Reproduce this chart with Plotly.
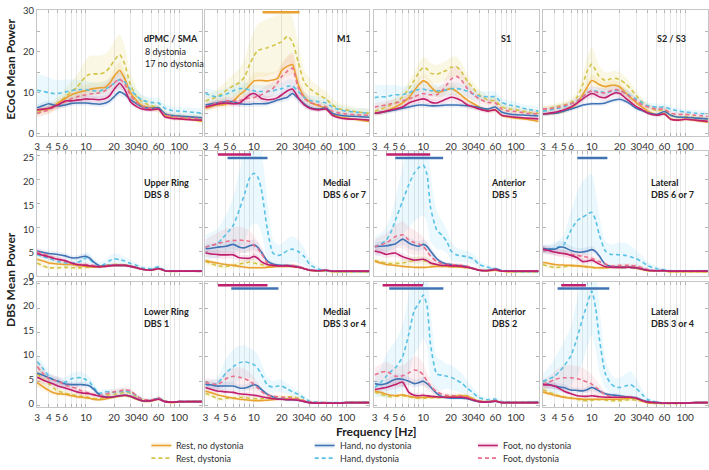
import math
import plotly.graph_objects as go

W, H = 709, 470

FREQ = [3, 3.5, 4, 4.5, 5, 6, 7, 8, 9, 10, 11, 12, 14, 16, 18, 20, 23, 26, 30, 35, 40, 50, 60, 70, 85, 100, 130, 175]
TICK_VALS = [3, 4, 5, 6, 7, 8, 9, 10, 20, 30, 40, 50, 60, 70, 80, 90, 100]
TICK_TEXT = ["3", "4", "5", "6", "", "", "", "10", "20", "30", "40", "", "60", "", "", "", "100"]

CONDS = ["rest", "rest_d", "hand", "hand_d", "foot", "foot_d"]
LABELS = {"rest": "Rest, no dystonia", "rest_d": "Rest, dystonia", "hand": "Hand, no dystonia",
          "hand_d": "Hand, dystonia", "foot": "Foot, no dystonia", "foot_d": "Foot, dystonia"}

# ---------------- ECoG ----------------
DPMC = dict(
    rest=[5.8,5.9,6.0,6.6,7.4,8.6,9.5,10.0,10.3,10.5,10.8,11.0,11.2,11.3,12.3,14.0,15.5,13.5,10.0,8.0,6.8,6.3,6.2,4.5,3.8,3.7,3.5,3.0],
    rest_d=[5.3,5.6,6.0,6.8,7.5,9.0,10.3,11.3,12.8,14.0,14.5,14.6,14.6,15.0,16.2,17.8,19.3,17.0,12.0,9.0,7.8,6.8,6.3,4.8,4.3,4.3,4.0,3.8],
    hand=[6.3,6.9,7.3,7.0,6.8,7.0,7.4,7.5,7.5,7.5,7.4,7.3,7.2,7.4,8.0,9.0,10.2,9.6,8.3,7.3,6.5,6.2,6.3,4.9,4.4,4.3,4.1,3.9],
    hand_d=[10.6,10.3,10.0,9.8,9.8,10.2,10.5,10.7,10.8,10.8,10.6,10.5,10.4,10.9,11.5,12.3,13.2,12.6,10.8,9.2,8.2,7.6,7.5,6.2,5.6,5.5,5.3,5.0],
    foot=[5.8,6.0,6.2,6.6,7.0,8.0,8.0,8.2,8.3,8.5,8.4,8.4,8.3,8.5,9.3,10.8,12.3,10.8,7.8,6.6,6.0,5.8,6.0,4.1,3.7,3.6,3.4,3.3],
    foot_d=[5.0,5.4,5.8,6.4,7.0,7.8,8.5,9.0,9.3,9.5,9.7,9.8,10.0,10.5,11.4,12.4,13.3,12.2,9.3,7.6,6.6,6.1,6.0,4.6,4.2,4.0,3.8,3.6],
)
DPMC_SD = dict(
    rest=[0.8,0.8,0.8,0.9,1.0,1.2,1.3,1.4,1.5,1.5,1.5,1.5,1.5,1.5,1.6,1.8,2.0,1.8,1.2,1.0,0.8,0.7,0.7,0.5,0.5,0.5,0.4,0.4],
    rest_d=[1.0,1.0,1.0,1.2,1.5,2.0,2.5,3.0,3.5,4.0,4.5,4.5,4.5,4.5,4.5,4.8,5.0,4.5,3.0,2.0,1.5,1.2,1.2,1.0,0.8,0.8,0.8,0.8],
    hand=[0.8,0.8,0.8,0.7,0.7,0.7,0.7,0.7,0.7,0.7,0.7,0.7,0.7,0.7,0.8,0.9,1.0,0.9,0.8,0.7,0.6,0.6,0.6,0.5,0.5,0.5,0.4,0.4],
    hand_d=[4.0,4.0,3.8,3.5,3.3,3.0,2.8,2.5,2.3,2.0,2.0,2.0,2.0,2.0,2.0,2.0,2.0,2.0,1.8,1.5,1.3,1.2,1.2,1.0,1.0,1.0,1.0,1.0],
    foot=[0.6,0.6,0.6,0.6,0.7,0.8,0.8,0.8,0.8,0.8,0.8,0.8,0.8,0.8,0.9,1.0,1.2,1.0,0.8,0.6,0.5,0.5,0.5,0.4,0.4,0.4,0.4,0.4],
    foot_d=[1.0,1.0,1.0,1.0,1.1,1.2,1.3,1.4,1.5,1.5,1.5,1.5,1.5,1.6,1.7,1.9,2.0,1.8,1.3,1.0,0.8,0.7,0.7,0.6,0.5,0.5,0.5,0.5],
)

M1 = dict(
    rest=[6.2,6.6,7.0,7.0,7.2,8.0,9.5,10.5,11.8,12.9,13.0,13.0,12.9,13.1,13.5,15.5,16.5,16.9,12.0,9.0,7.8,6.8,6.2,4.8,4.0,3.8,3.4,3.0],
    rest_d=[8.0,8.5,9.0,9.8,10.5,11.7,12.5,14.0,17.0,19.0,20.3,20.6,21.0,21.5,22.0,22.5,23.8,22.5,17.5,12.5,11.0,9.5,8.5,7.0,6.0,5.8,5.3,5.0],
    hand=[7.0,7.3,7.5,7.7,7.8,7.8,7.3,7.2,7.2,7.3,7.3,7.3,7.4,7.8,8.2,8.5,8.9,9.8,8.6,7.2,6.4,6.0,6.3,5.0,4.5,4.3,4.2,4.0],
    hand_d=[9.8,9.3,9.0,9.3,9.6,10.5,11.0,11.0,10.7,10.5,10.3,10.3,10.3,10.5,10.8,11.0,11.6,11.6,10.4,8.8,8.1,7.8,7.5,6.5,5.8,5.5,5.2,5.0],
    foot=[6.5,6.9,7.2,7.4,7.5,7.3,7.5,8.5,9.5,9.8,9.3,8.6,8.3,8.4,8.8,9.5,10.5,10.9,8.8,7.0,6.2,5.8,6.0,4.5,3.8,3.6,3.5,3.3],
    foot_d=[6.5,7.0,7.5,7.8,8.0,8.0,8.0,8.5,8.7,8.8,9.2,9.5,10.3,11.0,12.5,14.0,15.3,16.0,11.3,8.6,7.6,7.0,6.5,5.5,5.0,4.8,4.6,4.5],
)
M1_SD = dict(
    rest=[0.8,0.8,0.8,0.9,1.0,1.2,1.5,1.6,1.8,2.0,2.0,2.0,2.0,2.0,2.0,2.2,2.5,2.5,1.8,1.2,1.0,0.8,0.8,0.6,0.5,0.5,0.4,0.4],
    rest_d=[1.5,1.5,1.8,2.0,2.3,2.8,3.5,4.5,5.5,6.0,6.5,6.8,7.0,7.0,7.0,6.8,6.5,6.0,4.5,3.0,2.5,2.0,1.8,1.5,1.2,1.2,1.0,1.0],
    hand=[0.7,0.7,0.7,0.7,0.7,0.7,0.7,0.7,0.7,0.7,0.7,0.7,0.7,0.7,0.7,0.8,0.9,1.0,0.9,0.7,0.6,0.6,0.6,0.5,0.5,0.5,0.5,0.5],
    hand_d=[1.5,1.5,1.5,1.5,1.5,1.5,1.5,1.5,1.5,1.5,1.5,1.5,1.5,1.5,1.5,1.5,1.6,1.6,1.5,1.3,1.2,1.2,1.2,1.0,1.0,1.0,1.0,1.0],
    foot=[0.7,0.7,0.7,0.7,0.7,0.7,0.8,0.9,1.0,1.0,1.0,0.9,0.9,0.9,0.9,1.0,1.1,1.2,1.0,0.8,0.6,0.5,0.5,0.5,0.4,0.4,0.4,0.4],
    foot_d=[1.0,1.0,1.0,1.0,1.0,1.0,1.0,1.1,1.2,1.2,1.3,1.4,1.6,1.8,2.2,2.8,3.5,3.8,2.5,1.5,1.2,1.0,0.9,0.8,0.7,0.7,0.6,0.6],
)

S1 = dict(
    rest=[5.0,5.2,5.5,6.0,6.5,7.5,8.8,10.5,12.0,12.9,12.5,11.5,10.2,10.3,10.8,11.0,10.3,9.3,8.2,7.3,6.5,5.6,5.8,4.5,4.0,3.8,3.5,3.0],
    rest_d=[5.5,6.0,6.5,7.0,7.5,9.0,11.0,13.0,15.0,16.2,15.8,14.8,14.5,15.0,15.5,16.2,16.3,15.0,12.8,11.0,9.5,8.2,8.0,6.5,6.0,5.8,5.3,5.0],
    hand=[5.0,5.2,5.4,5.6,5.8,6.2,6.5,6.8,7.0,7.0,6.9,6.8,6.8,6.9,7.0,7.0,7.0,6.9,6.8,6.6,6.4,6.0,6.5,5.3,4.8,4.6,4.5,4.3],
    hand_d=[8.8,9.0,9.0,9.3,9.5,9.5,10.0,10.5,10.8,10.9,10.6,10.5,10.5,10.5,10.7,11.0,11.0,10.8,10.4,9.6,9.2,9.0,9.0,7.6,7.0,6.7,6.0,5.5],
    foot=[5.0,5.2,5.5,5.8,6.0,6.5,7.5,8.0,8.3,8.5,8.2,7.7,7.5,8.0,8.5,8.9,8.6,8.0,7.0,6.5,6.0,5.5,5.8,4.5,4.2,4.0,3.8,3.6],
    foot_d=[6.5,6.8,7.0,7.3,7.5,8.0,8.5,9.0,9.5,9.8,9.6,9.5,9.5,10.5,12.0,13.3,14.0,13.0,11.0,9.5,8.5,7.6,7.5,6.0,5.5,5.4,5.0,4.8],
)
S1_SD = dict(
    rest=[0.6,0.6,0.6,0.7,0.8,1.0,1.2,1.4,1.6,1.7,1.6,1.5,1.3,1.3,1.4,1.5,1.4,1.2,1.0,0.8,0.7,0.6,0.6,0.5,0.5,0.5,0.4,0.4],
    rest_d=[1.0,1.0,1.1,1.2,1.3,1.5,1.8,2.0,2.3,2.5,2.5,2.4,2.3,2.3,2.4,2.5,2.5,2.2,1.8,1.5,1.3,1.1,1.1,1.0,0.9,0.9,0.8,0.8],
    hand=[0.6,0.6,0.6,0.6,0.6,0.6,0.6,0.6,0.6,0.6,0.6,0.6,0.6,0.6,0.6,0.6,0.6,0.6,0.6,0.6,0.6,0.5,0.5,0.5,0.5,0.5,0.4,0.4],
    hand_d=[3.0,3.0,2.8,2.6,2.4,2.0,1.8,1.6,1.6,1.6,1.5,1.5,1.5,1.5,1.5,1.5,1.5,1.5,1.5,1.4,1.3,1.3,1.3,1.2,1.1,1.0,1.0,1.0],
    foot=[0.6,0.6,0.6,0.6,0.6,0.7,0.8,0.9,0.9,0.9,0.9,0.8,0.8,0.8,0.9,1.0,1.0,0.9,0.8,0.7,0.6,0.5,0.5,0.5,0.4,0.4,0.4,0.4],
    foot_d=[1.0,1.0,1.0,1.0,1.0,1.1,1.2,1.3,1.4,1.5,1.5,1.5,1.5,1.7,2.0,2.5,2.8,2.5,2.0,1.5,1.2,1.0,1.0,0.9,0.8,0.8,0.7,0.7],
)

S23 = dict(
    rest=[4.8,4.9,5.0,5.2,5.5,6.3,7.5,9.5,11.5,13.0,12.6,12.0,11.5,11.8,11.8,11.4,10.0,8.8,7.6,6.4,5.5,4.6,4.9,3.6,3.3,3.5,3.2,2.8],
    rest_d=[6.0,6.2,6.5,6.8,7.0,7.6,9.0,12.0,15.5,17.0,15.5,14.0,13.0,13.4,13.5,13.2,12.2,11.0,9.3,7.6,6.6,5.6,5.8,4.5,4.0,4.2,3.9,3.5],
    hand=[4.8,4.9,5.0,5.2,5.5,6.0,6.5,7.0,7.2,7.3,7.3,7.3,7.5,8.0,8.3,8.4,7.9,7.2,6.2,5.6,5.1,4.7,5.4,4.5,4.0,4.0,3.8,3.6],
    hand_d=[5.5,5.7,6.0,6.3,6.5,7.3,8.0,9.0,10.0,10.5,10.4,10.3,10.0,10.3,10.5,10.5,9.9,9.2,8.5,7.5,6.8,6.5,6.5,6.0,5.5,5.3,5.0,4.8],
    foot=[4.8,5.0,5.2,5.5,5.8,6.5,7.5,8.5,9.3,9.8,9.5,9.0,8.8,9.5,10.0,9.8,8.7,7.7,6.6,5.8,5.0,4.5,4.8,3.5,3.3,3.5,3.3,3.0],
    foot_d=[6.0,6.1,6.3,6.5,6.8,7.3,8.0,9.0,10.0,10.4,10.2,10.0,10.0,10.5,10.8,10.5,9.8,9.0,8.0,7.0,6.5,6.0,6.0,5.0,4.7,4.7,4.5,4.2],
)
S23_SD = dict(
    rest=[0.5,0.5,0.5,0.5,0.6,0.7,0.9,1.1,1.3,1.5,1.4,1.3,1.2,1.2,1.2,1.2,1.1,1.0,0.8,0.7,0.6,0.5,0.5,0.4,0.4,0.4,0.4,0.4],
    rest_d=[0.8,0.8,0.8,0.8,0.9,1.0,1.5,2.5,3.5,4.2,3.5,2.5,2.0,1.8,1.8,1.8,1.7,1.5,1.2,1.0,0.8,0.7,0.7,0.6,0.6,0.6,0.5,0.5],
    hand=[0.5,0.5,0.5,0.5,0.5,0.5,0.5,0.5,0.5,0.5,0.5,0.5,0.6,0.6,0.6,0.6,0.6,0.5,0.5,0.5,0.4,0.4,0.4,0.4,0.4,0.4,0.4,0.4],
    hand_d=[0.8,0.8,0.8,0.8,0.8,0.8,0.9,1.0,1.0,1.0,1.0,1.0,1.0,1.0,1.0,1.0,1.0,1.0,0.9,0.8,0.8,0.8,0.8,0.7,0.7,0.7,0.7,0.7],
    foot=[0.5,0.5,0.5,0.5,0.5,0.6,0.7,0.8,0.9,1.0,1.0,0.9,0.9,0.9,1.0,1.0,0.9,0.8,0.7,0.6,0.5,0.5,0.5,0.4,0.4,0.4,0.4,0.4],
    foot_d=[0.7,0.7,0.7,0.7,0.7,0.8,0.9,1.0,1.1,1.2,1.2,1.2,1.2,1.2,1.2,1.2,1.1,1.0,0.9,0.8,0.7,0.7,0.7,0.6,0.6,0.6,0.6,0.6],
)

# ---------------- DBS upper row ----------------
UPPER = dict(
    rest=[3.3,2.9,2.5,2.4,2.3,2.2,2.2,2.0,1.9,1.8,1.7,1.7,1.7,1.8,1.9,2.0,2.0,2.0,1.8,1.5,1.2,1.0,1.3,0.9,0.8,0.8,0.8,0.8],
    rest_d=[2.5,1.9,1.5,1.5,1.5,1.6,1.5,1.5,1.5,1.6,1.6,1.7,1.8,2.0,2.1,2.2,2.2,2.1,1.9,1.5,1.2,1.0,1.3,0.9,0.7,0.8,0.8,0.8],
    hand=[5.0,4.7,4.5,4.4,4.3,4.0,3.6,3.6,3.8,3.9,3.5,2.8,1.9,1.9,2.0,2.0,2.0,2.0,1.8,1.5,1.2,1.1,1.4,0.9,0.8,0.8,0.8,0.8],
    hand_d=[4.3,3.8,3.5,3.1,2.8,2.5,2.5,2.6,3.0,3.6,3.3,2.6,2.0,2.3,3.0,3.4,3.2,2.9,2.4,2.0,1.5,1.3,1.7,1.0,0.8,0.8,0.8,0.8],
    foot=[4.5,4.1,3.8,3.5,3.3,3.0,2.5,2.2,2.1,2.0,1.9,1.8,1.7,1.8,1.9,2.0,2.0,2.0,1.8,1.5,1.2,1.0,1.3,0.9,0.8,0.8,0.8,0.8],
    foot_d=[4.8,4.4,4.0,3.6,3.3,2.8,2.4,2.2,2.2,2.2,2.1,2.0,1.8,1.9,2.0,2.1,2.1,2.0,1.8,1.5,1.2,1.0,1.4,0.9,0.8,0.8,0.8,0.8],
)
UPPER_SD = dict(
    rest=[0.5,0.5,0.4,0.4,0.4,0.4,0.4,0.4,0.4,0.4,0.3,0.3,0.3,0.3,0.3,0.3,0.3,0.3,0.3,0.3,0.2,0.2,0.2,0.2,0.2,0.2,0.2,0.2],
    rest_d=[0.6,0.5,0.4,0.4,0.4,0.4,0.4,0.4,0.4,0.4,0.3,0.3,0.3,0.3,0.3,0.3,0.3,0.3,0.3,0.3,0.2,0.2,0.2,0.2,0.2,0.2,0.2,0.2],
    hand=[0.6,0.6,0.6,0.6,0.6,0.6,0.5,0.5,0.6,0.6,0.5,0.4,0.3,0.3,0.3,0.3,0.3,0.3,0.3,0.3,0.2,0.2,0.2,0.2,0.2,0.2,0.2,0.2],
    hand_d=[0.6,0.6,0.6,0.6,0.6,0.6,0.7,0.8,1.0,1.2,1.1,0.9,0.7,0.8,1.0,1.2,1.1,0.9,0.7,0.5,0.4,0.4,0.4,0.3,0.3,0.3,0.3,0.3],
    foot=[0.6,0.5,0.5,0.5,0.5,0.4,0.4,0.4,0.4,0.4,0.3,0.3,0.3,0.3,0.3,0.3,0.3,0.3,0.3,0.3,0.2,0.2,0.2,0.2,0.2,0.2,0.2,0.2],
    foot_d=[0.7,0.6,0.6,0.5,0.5,0.4,0.4,0.4,0.4,0.4,0.3,0.3,0.3,0.3,0.3,0.3,0.3,0.3,0.3,0.3,0.2,0.2,0.2,0.2,0.2,0.2,0.2,0.2],
)

MED67 = dict(
    rest=[3.0,2.7,2.5,2.3,2.2,2.0,1.8,1.6,1.5,1.5,1.5,1.5,1.6,1.7,1.8,1.8,1.8,1.8,1.6,1.3,1.0,0.8,0.9,0.7,0.7,0.7,0.7,0.7],
    rest_d=[2.8,2.3,2.0,1.8,1.8,2.0,2.3,2.5,2.7,2.5,2.3,2.2,1.8,1.8,1.9,1.9,1.9,1.9,1.7,1.3,1.0,0.8,0.9,0.7,0.7,0.7,0.7,0.7],
    hand=[5.5,5.6,5.8,5.9,6.0,6.4,5.8,5.7,6.1,6.3,5.8,4.8,2.9,2.3,2.1,2.0,2.0,1.9,1.7,1.3,1.0,0.9,1.0,0.8,0.8,0.8,0.8,0.8],
    hand_d=[5.8,6.2,6.5,7.5,8.5,10.4,13.8,17.2,20.3,21.3,20.5,18.0,9.4,4.6,4.1,4.3,5.1,5.4,4.9,3.8,2.2,1.2,0.9,0.8,0.7,0.7,0.7,0.7],
    foot=[4.6,4.4,4.3,4.2,4.2,4.2,3.6,3.5,3.5,3.9,3.5,2.8,2.2,2.0,1.9,1.9,1.9,1.8,1.6,1.3,1.0,0.9,1.0,0.8,0.8,0.8,0.8,0.8],
    foot_d=[5.8,6.2,6.5,6.8,7.0,7.2,7.3,7.2,7.0,6.2,5.5,4.6,2.5,2.0,1.9,1.9,2.0,2.0,1.8,1.4,1.0,0.9,1.0,0.8,0.8,0.8,0.8,0.8],
)
MED67_SD = dict(
    rest=[0.4,0.4,0.3,0.3,0.3,0.3,0.3,0.3,0.3,0.3,0.3,0.3,0.3,0.3,0.3,0.3,0.3,0.3,0.3,0.2,0.2,0.2,0.2,0.2,0.2,0.2,0.2,0.2],
    rest_d=[0.6,0.5,0.5,0.5,0.5,0.6,0.7,0.8,0.8,0.8,0.7,0.6,0.4,0.3,0.3,0.3,0.3,0.3,0.3,0.2,0.2,0.2,0.2,0.2,0.2,0.2,0.2,0.2],
    hand=[1.0,1.0,1.0,1.0,1.0,1.1,1.1,1.1,1.1,1.1,1.0,0.8,0.5,0.4,0.3,0.3,0.3,0.3,0.3,0.2,0.2,0.2,0.2,0.2,0.2,0.2,0.2,0.2],
    hand_d=[2.5,2.8,3.0,3.5,4.0,6.0,8.0,10.0,10.5,10.5,10.0,9.0,6.0,3.0,2.2,2.3,2.6,2.7,2.4,1.8,1.0,0.5,0.4,0.3,0.3,0.3,0.3,0.3],
    foot=[0.8,0.8,0.8,0.8,0.8,0.8,0.7,0.7,0.7,0.7,0.6,0.5,0.4,0.3,0.3,0.3,0.3,0.3,0.3,0.2,0.2,0.2,0.2,0.2,0.2,0.2,0.2,0.2],
    foot_d=[1.5,2.0,2.3,2.5,2.7,2.8,2.8,2.6,2.3,2.0,1.7,1.3,0.7,0.5,0.4,0.4,0.4,0.4,0.4,0.3,0.3,0.3,0.3,0.2,0.2,0.2,0.2,0.2],
)

ANT5 = dict(
    rest=[2.9,2.5,2.2,2.1,2.0,1.8,1.7,1.6,1.6,1.6,1.6,1.7,1.8,1.8,1.8,1.7,1.7,1.6,1.5,1.3,1.0,0.9,1.0,0.8,0.7,0.7,0.7,0.7],
    rest_d=[3.0,2.7,2.5,2.4,2.4,2.5,2.8,3.0,3.2,3.0,2.8,2.5,2.0,1.9,1.9,1.9,1.9,1.8,1.6,1.3,1.0,0.9,1.0,0.8,0.7,0.7,0.7,0.7],
    hand=[5.9,6.0,6.1,6.3,6.5,7.5,6.7,6.2,6.0,6.4,6.0,5.0,3.4,2.6,2.3,2.2,2.0,1.9,1.7,1.3,1.0,1.0,1.3,0.9,0.8,0.8,0.8,0.8],
    hand_d=[6.0,6.5,7.3,9.0,11.4,15.5,18.9,21.3,22.5,23.0,21.0,14.1,9.4,8.3,7.0,5.0,4.2,4.0,3.8,3.3,2.2,1.6,1.3,0.9,0.8,0.7,0.7,0.7],
    foot=[5.0,4.7,4.3,4.5,4.6,3.8,3.4,3.1,3.2,3.3,3.0,2.5,2.2,2.0,2.0,1.9,1.9,1.8,1.6,1.3,1.0,0.9,1.1,0.8,0.8,0.8,0.8,0.8],
    foot_d=[5.9,6.3,6.7,7.4,8.0,8.4,7.3,6.8,6.5,6.0,5.0,3.9,2.8,2.4,2.2,2.2,2.1,2.0,1.8,1.4,1.1,1.0,1.2,0.9,0.8,0.8,0.8,0.8],
)
ANT5_SD = dict(
    rest=[0.4,0.4,0.3,0.3,0.3,0.3,0.3,0.3,0.3,0.3,0.3,0.3,0.3,0.3,0.3,0.3,0.3,0.3,0.3,0.2,0.2,0.2,0.2,0.2,0.2,0.2,0.2,0.2],
    rest_d=[0.6,0.5,0.5,0.5,0.6,0.7,0.8,0.9,0.9,0.9,0.8,0.7,0.4,0.3,0.3,0.3,0.3,0.3,0.3,0.2,0.2,0.2,0.2,0.2,0.2,0.2,0.2,0.2],
    hand=[1.0,1.0,1.0,1.0,1.0,1.2,1.2,1.1,1.0,1.0,1.0,0.9,0.6,0.4,0.3,0.3,0.3,0.3,0.3,0.2,0.2,0.2,0.2,0.2,0.2,0.2,0.2,0.2],
    hand_d=[2.0,2.3,2.8,3.5,4.5,7.0,9.0,10.0,10.5,10.5,10.0,7.0,4.0,3.0,2.5,2.0,1.5,1.3,1.2,1.0,0.8,0.5,0.4,0.3,0.3,0.3,0.3,0.3],
    foot=[0.8,0.8,0.8,0.8,0.8,0.7,0.7,0.6,0.6,0.6,0.6,0.5,0.4,0.3,0.3,0.3,0.3,0.3,0.3,0.2,0.2,0.2,0.2,0.2,0.2,0.2,0.2,0.2],
    foot_d=[1.5,1.8,2.0,2.3,2.5,2.8,2.8,2.6,2.3,2.0,1.6,1.2,0.8,0.5,0.4,0.4,0.4,0.4,0.4,0.3,0.3,0.3,0.3,0.2,0.2,0.2,0.2,0.2],
)

LAT67 = dict(
    rest=[2.6,2.4,2.2,2.1,2.1,2.0,1.9,1.8,1.7,1.6,1.5,1.5,1.5,1.6,1.6,1.6,1.6,1.6,1.4,1.1,0.9,0.8,0.8,0.7,0.7,0.7,0.7,0.7],
    rest_d=[2.2,1.8,1.6,1.6,1.7,1.9,1.9,1.8,1.7,1.6,1.5,1.5,1.5,1.6,1.7,1.7,1.7,1.7,1.5,1.2,0.9,0.8,0.8,0.7,0.7,0.7,0.7,0.7],
    hand=[5.6,5.4,5.4,5.8,5.8,5.1,4.8,4.8,5.0,5.3,4.9,4.0,2.2,1.8,1.7,1.6,1.6,1.6,1.5,1.2,1.0,0.9,0.9,0.8,0.8,0.8,0.8,0.8],
    hand_d=[5.3,5.4,5.6,5.9,6.3,9.4,11.4,12.1,12.7,13.1,11.5,8.5,5.0,4.3,4.3,4.2,4.1,3.8,3.4,2.7,1.9,1.3,1.1,0.9,0.8,0.8,0.8,0.8],
    foot=[5.4,5.1,4.8,4.6,4.5,4.1,3.6,2.8,2.9,3.1,2.7,2.3,1.7,1.6,1.6,1.6,1.6,1.6,1.5,1.2,1.0,0.9,0.9,0.8,0.8,0.8,0.8,0.8],
    foot_d=[5.3,5.0,4.8,4.6,4.5,4.3,4.1,3.9,3.7,3.5,3.1,2.8,2.3,1.9,1.9,2.0,2.0,2.0,1.9,1.5,1.1,0.9,0.9,0.8,0.8,0.8,0.8,0.8],
)
LAT67_SD = dict(
    rest=[0.4,0.4,0.3,0.3,0.3,0.3,0.3,0.3,0.3,0.3,0.3,0.3,0.3,0.3,0.3,0.3,0.3,0.3,0.3,0.2,0.2,0.2,0.2,0.2,0.2,0.2,0.2,0.2],
    rest_d=[0.5,0.4,0.4,0.4,0.4,0.4,0.4,0.4,0.4,0.4,0.3,0.3,0.3,0.3,0.3,0.3,0.3,0.3,0.3,0.2,0.2,0.2,0.2,0.2,0.2,0.2,0.2,0.2],
    hand=[0.7,0.8,1.0,1.3,1.2,0.9,0.8,0.8,0.8,0.8,0.7,0.6,0.4,0.3,0.3,0.3,0.3,0.3,0.3,0.2,0.2,0.2,0.2,0.2,0.2,0.2,0.2,0.2],
    hand_d=[1.0,1.0,1.2,1.5,2.0,4.0,6.0,7.5,8.0,8.0,6.0,4.0,2.0,2.0,2.3,2.6,2.6,2.3,1.8,1.2,0.8,0.5,0.4,0.3,0.3,0.3,0.3,0.3],
    foot=[0.7,0.7,0.7,0.7,0.7,0.7,0.6,0.6,0.6,0.6,0.5,0.5,0.3,0.3,0.3,0.3,0.3,0.3,0.3,0.2,0.2,0.2,0.2,0.2,0.2,0.2,0.2,0.2],
    foot_d=[0.8,0.8,0.8,0.8,0.8,0.8,0.8,0.8,0.8,0.8,0.7,0.6,0.5,0.4,0.4,0.4,0.4,0.4,0.4,0.3,0.3,0.2,0.2,0.2,0.2,0.2,0.2,0.2],
)

# ---------------- DBS lower row ----------------
LOWER = dict(
    rest=[4.7,3.8,3.1,2.6,2.4,2.3,2.0,1.8,1.7,1.6,1.5,1.3,1.2,1.3,1.5,1.7,1.9,2.0,1.8,1.3,0.9,0.9,1.3,0.8,0.6,0.7,0.8,0.8],
    rest_d=[6.5,5.3,4.5,3.6,3.0,2.5,2.3,2.0,1.9,1.8,1.6,1.5,1.3,1.8,2.2,2.3,2.5,2.7,2.5,1.8,1.2,1.0,1.5,0.9,0.7,0.8,0.8,0.8],
    hand=[6.7,6.2,5.7,5.3,5.0,4.4,4.3,4.3,4.3,4.2,4.0,3.4,2.2,1.8,1.7,1.8,2.0,2.1,1.9,1.4,1.0,1.0,1.4,0.8,0.7,0.8,0.8,0.8],
    hand_d=[9.0,7.5,6.0,5.3,5.0,4.8,5.5,5.7,5.7,5.3,4.8,3.8,2.5,2.8,2.8,2.7,2.8,3.0,2.7,2.0,1.3,1.1,1.6,0.9,0.7,0.8,0.8,0.8],
    foot=[5.8,5.2,4.8,4.4,4.0,3.6,3.2,2.8,2.6,2.5,2.4,2.2,1.9,1.7,1.7,1.8,2.0,2.1,1.9,1.4,1.0,1.0,1.3,0.8,0.7,0.8,0.8,0.8],
    foot_d=[8.0,6.5,5.5,5.2,5.0,4.2,3.8,3.5,3.0,2.7,2.5,2.3,2.0,2.3,2.6,2.8,3.0,3.2,3.0,2.0,1.3,1.1,1.6,0.9,0.7,0.8,0.8,0.8],
)
LOWER_SD = dict(
    rest=[1.0,0.8,0.6,0.5,0.5,0.4,0.4,0.4,0.4,0.4,0.3,0.3,0.3,0.3,0.3,0.3,0.3,0.3,0.3,0.3,0.2,0.2,0.2,0.2,0.2,0.2,0.2,0.2],
    rest_d=[2.5,1.5,1.0,0.8,0.7,0.6,0.5,0.5,0.5,0.5,0.4,0.4,0.4,0.5,0.6,0.6,0.7,0.7,0.6,0.4,0.3,0.3,0.3,0.2,0.2,0.2,0.2,0.2],
    hand=[1.0,0.9,0.8,0.7,0.7,0.6,0.6,0.6,0.6,0.6,0.5,0.5,0.4,0.3,0.3,0.3,0.3,0.3,0.3,0.3,0.2,0.2,0.2,0.2,0.2,0.2,0.2,0.2],
    hand_d=[1.5,1.2,1.0,0.9,0.9,1.0,1.1,1.2,1.2,1.1,1.0,0.8,0.6,0.6,0.6,0.6,0.6,0.6,0.5,0.4,0.3,0.3,0.3,0.2,0.2,0.2,0.2,0.2],
    foot=[0.9,0.8,0.7,0.6,0.6,0.5,0.5,0.5,0.5,0.5,0.4,0.4,0.3,0.3,0.3,0.3,0.3,0.3,0.3,0.3,0.2,0.2,0.2,0.2,0.2,0.2,0.2,0.2],
    foot_d=[1.8,1.3,1.0,1.0,1.0,0.9,0.8,0.7,0.6,0.6,0.5,0.5,0.5,0.5,0.6,0.6,0.7,0.7,0.6,0.4,0.3,0.3,0.3,0.2,0.2,0.2,0.2,0.2],
)

MED34 = dict(
    rest=[3.0,2.6,2.2,2.0,1.8,1.5,1.3,1.2,1.1,1.0,1.0,1.0,1.1,1.2,1.3,1.3,1.4,1.4,1.3,0.9,0.6,0.5,0.5,0.5,0.5,0.6,0.6,0.6],
    rest_d=[2.5,2.0,1.5,1.3,1.5,1.5,1.7,1.6,1.5,1.4,1.4,1.4,1.5,1.6,1.7,1.7,1.8,1.8,1.5,1.0,0.7,0.6,0.6,0.5,0.5,0.6,0.6,0.6],
    hand=[4.4,4.2,4.0,4.0,4.0,4.0,3.6,3.6,3.9,4.3,4.0,3.3,2.3,1.8,1.4,1.3,1.2,1.2,1.1,0.8,0.6,0.5,0.5,0.5,0.5,0.6,0.6,0.6],
    hand_d=[4.3,4.2,4.5,5.5,6.7,8.0,8.8,9.0,8.7,8.4,7.6,6.5,4.2,3.8,4.0,4.0,3.4,2.8,2.3,1.5,0.9,0.7,0.6,0.6,0.6,0.6,0.6,0.7],
    foot=[3.7,3.3,3.0,2.9,2.8,2.7,2.4,2.3,2.2,2.1,2.0,1.8,1.6,1.4,1.3,1.3,1.2,1.2,1.1,0.8,0.6,0.5,0.5,0.5,0.5,0.6,0.6,0.6],
    foot_d=[4.7,4.5,4.3,4.8,5.5,6.0,5.8,5.5,5.0,4.3,3.6,2.9,2.1,1.9,1.8,1.7,1.6,1.5,1.3,1.0,0.7,0.6,0.6,0.5,0.5,0.6,0.6,0.6],
)
MED34_SD = dict(
    rest=[0.5,0.4,0.4,0.3,0.3,0.3,0.3,0.3,0.3,0.3,0.3,0.3,0.3,0.3,0.3,0.3,0.3,0.3,0.3,0.2,0.2,0.2,0.2,0.2,0.2,0.2,0.2,0.2],
    rest_d=[0.6,0.5,0.4,0.4,0.4,0.4,0.4,0.4,0.4,0.4,0.3,0.3,0.3,0.3,0.4,0.4,0.4,0.4,0.3,0.2,0.2,0.2,0.2,0.2,0.2,0.2,0.2,0.2],
    hand=[0.8,0.8,0.8,0.8,0.8,0.8,0.7,0.7,0.7,0.8,0.7,0.6,0.4,0.3,0.3,0.3,0.3,0.3,0.3,0.2,0.2,0.2,0.2,0.2,0.2,0.2,0.2,0.2],
    hand_d=[1.0,1.0,1.2,2.0,3.0,3.5,3.5,3.3,3.0,3.0,2.8,2.3,1.5,1.2,1.3,1.3,1.1,0.9,0.7,0.4,0.2,0.2,0.2,0.2,0.2,0.2,0.2,0.2],
    foot=[0.6,0.6,0.5,0.5,0.5,0.5,0.5,0.5,0.5,0.5,0.4,0.4,0.3,0.3,0.3,0.3,0.3,0.3,0.3,0.2,0.2,0.2,0.2,0.2,0.2,0.2,0.2,0.2],
    foot_d=[1.0,1.0,1.0,1.2,1.5,1.8,2.0,2.0,1.8,1.5,1.2,0.9,0.5,0.4,0.3,0.3,0.3,0.3,0.3,0.2,0.2,0.2,0.2,0.2,0.2,0.2,0.2,0.2],
)

ANT2 = dict(
    rest=[3.0,2.7,2.3,2.1,2.0,2.2,1.9,1.7,1.6,1.7,1.7,1.7,1.7,1.7,1.8,1.8,1.9,2.0,1.9,1.3,0.9,0.8,1.0,0.6,0.6,0.6,0.6,0.6],
    rest_d=[2.8,2.3,2.0,1.8,1.9,2.0,1.8,1.6,1.5,1.5,1.5,1.6,1.6,1.7,1.8,1.9,2.0,2.1,2.0,1.4,0.9,0.8,1.0,0.6,0.6,0.6,0.6,0.6],
    hand=[4.5,4.3,4.5,5.0,5.4,5.4,5.0,4.5,4.7,5.0,4.5,3.8,2.5,1.8,1.6,1.5,1.5,1.5,1.4,1.0,0.8,0.7,0.9,0.6,0.6,0.6,0.6,0.6],
    hand_d=[3.7,4.8,6.0,7.0,7.7,10.0,14.7,19.5,21.0,22.7,20.5,12.5,6.5,6.2,6.0,5.8,5.2,4.6,3.5,2.5,1.6,1.2,1.3,0.8,0.7,0.6,0.7,0.7],
    foot=[3.3,3.5,3.7,4.0,4.3,4.8,2.7,2.1,2.0,2.1,2.0,1.9,1.8,1.7,1.7,1.7,1.7,1.7,1.5,1.1,0.8,0.7,0.9,0.6,0.6,0.6,0.6,0.6],
    foot_d=[6.3,6.8,7.0,6.5,6.0,6.1,6.7,7.3,7.1,6.3,5.0,4.0,2.8,2.3,2.1,2.0,2.0,1.9,1.7,1.2,0.9,0.8,1.0,0.7,0.6,0.6,0.6,0.6],
)
ANT2_SD = dict(
    rest=[0.5,0.4,0.4,0.3,0.3,0.3,0.3,0.3,0.3,0.3,0.3,0.3,0.3,0.3,0.3,0.3,0.3,0.3,0.3,0.2,0.2,0.2,0.2,0.2,0.2,0.2,0.2,0.2],
    rest_d=[0.6,0.5,0.4,0.4,0.4,0.4,0.4,0.4,0.4,0.4,0.3,0.3,0.3,0.3,0.4,0.4,0.4,0.4,0.3,0.2,0.2,0.2,0.2,0.2,0.2,0.2,0.2,0.2],
    hand=[0.8,0.8,0.9,1.0,1.0,1.0,0.9,0.8,0.8,0.9,0.8,0.7,0.4,0.3,0.3,0.3,0.3,0.3,0.3,0.2,0.2,0.2,0.2,0.2,0.2,0.2,0.2,0.2],
    hand_d=[2.0,3.0,4.5,5.0,5.5,6.5,8.0,9.0,9.0,9.0,8.5,7.0,3.5,3.0,2.5,2.5,2.3,2.0,1.5,1.0,0.6,0.4,0.4,0.3,0.3,0.3,0.3,0.3],
    foot=[0.6,0.6,0.7,0.8,0.9,1.0,0.6,0.5,0.5,0.5,0.4,0.4,0.3,0.3,0.3,0.3,0.3,0.3,0.3,0.2,0.2,0.2,0.2,0.2,0.2,0.2,0.2,0.2],
    foot_d=[1.5,1.8,2.0,2.0,2.0,2.2,2.5,2.8,2.7,2.3,1.8,1.3,0.7,0.5,0.4,0.4,0.4,0.4,0.4,0.3,0.3,0.3,0.3,0.2,0.2,0.2,0.2,0.2],
)

LAT34 = dict(
    rest=[2.8,2.4,2.1,1.9,1.7,1.5,1.4,1.3,1.3,1.3,1.3,1.3,1.3,1.3,1.3,1.3,1.4,1.5,1.4,0.9,0.6,0.5,0.5,0.5,0.5,0.5,0.6,0.6],
    rest_d=[3.3,2.7,2.3,2.0,1.8,1.6,1.3,1.0,1.0,1.1,1.2,1.2,1.1,1.0,1.0,1.0,1.1,1.2,1.1,0.8,0.5,0.4,0.4,0.4,0.4,0.5,0.5,0.5],
    hand=[4.5,4.3,4.0,3.8,3.7,3.2,3.1,3.0,3.3,3.7,3.4,3.0,2.4,2.2,2.1,2.0,1.8,1.7,1.6,1.1,0.8,0.6,0.5,0.5,0.5,0.5,0.6,0.6],
    hand_d=[5.0,5.5,6.0,7.0,8.0,10.3,14.0,18.0,21.0,23.5,20.0,14.0,6.5,4.5,3.8,3.7,4.0,4.3,3.5,2.2,1.2,0.7,0.5,0.5,0.5,0.5,0.6,0.6],
    foot=[4.3,4.2,4.0,3.5,3.0,2.4,2.0,1.9,1.9,2.0,1.9,1.8,1.7,1.7,1.7,1.7,1.7,1.7,1.5,1.0,0.7,0.6,0.5,0.5,0.5,0.5,0.6,0.6],
    foot_d=[4.3,4.8,5.3,5.6,5.7,5.7,5.5,5.2,4.8,4.4,3.8,3.2,2.2,1.8,1.7,1.7,1.7,1.7,1.5,1.0,0.7,0.6,0.5,0.5,0.5,0.5,0.6,0.6],
)
LAT34_SD = dict(
    rest=[0.5,0.4,0.4,0.3,0.3,0.3,0.3,0.3,0.3,0.3,0.3,0.3,0.3,0.3,0.3,0.3,0.3,0.3,0.3,0.2,0.2,0.2,0.2,0.2,0.2,0.2,0.2,0.2],
    rest_d=[0.8,0.6,0.5,0.4,0.4,0.4,0.3,0.3,0.3,0.3,0.3,0.3,0.3,0.3,0.3,0.3,0.3,0.3,0.3,0.2,0.2,0.2,0.2,0.2,0.2,0.2,0.2,0.2],
    hand=[0.8,0.8,0.7,0.7,0.7,0.6,0.6,0.6,0.6,0.7,0.6,0.5,0.4,0.4,0.4,0.3,0.3,0.3,0.3,0.2,0.2,0.2,0.2,0.2,0.2,0.2,0.2,0.2],
    hand_d=[1.5,2.5,3.5,4.5,5.0,6.0,8.0,9.0,9.0,9.0,8.5,7.0,3.0,2.0,1.8,2.0,2.5,2.8,2.0,1.0,0.5,0.3,0.2,0.2,0.2,0.2,0.2,0.2],
    foot=[0.6,0.6,0.6,0.5,0.5,0.4,0.4,0.4,0.4,0.4,0.4,0.3,0.3,0.3,0.3,0.3,0.3,0.3,0.3,0.2,0.2,0.2,0.2,0.2,0.2,0.2,0.2,0.2],
    foot_d=[1.0,1.3,1.7,2.2,2.5,2.6,2.6,2.5,2.3,2.0,1.6,1.2,0.6,0.4,0.4,0.4,0.4,0.4,0.4,0.3,0.3,0.2,0.2,0.2,0.2,0.2,0.2,0.2],
)

# significance bars: (condition, low Hz, high Hz)
SIG_M1 = [("rest", 12.4, 31.0)]
SIG_MED67 = [("foot", 4.1, 9.3), ("hand", 5.2, 14.0)]
SIG_ANT5 = [("foot", 4.0, 11.9), ("hand", 5.0, 16.4)]
SIG_LAT67 = [("hand", 7.0, 14.7)]
SIG_MED34 = [("foot", 4.1, 14.0), ("hand", 5.7, 18.4)]
SIG_ANT2 = [("foot", 3.65, 9.95), ("hand", 4.3, 16.5)]
SIG_LAT34 = [("foot", 4.7, 8.65), ("hand", 4.3, 15.4)]

# panel labels: (bold heading, optional regular sub-text)
TITLES = [
    ("dPMC / SMA", "8 dystonia<br>17 no dystonia"), ("M1", None), ("S1", None), ("S2 / S3", None),
    ("Upper Ring<br>DBS 8", None), ("Medial<br>DBS 6 or 7", None),
    ("Anterior<br>DBS 5", None), ("Lateral<br>DBS 6 or 7", None),
    ("Lower Ring<br>DBS 1", None), ("Medial<br>DBS 3 or 4", None),
    ("Anterior<br>DBS 2", None), ("Lateral<br>DBS 3 or 4", None),
]

PANELS = [
    (DPMC, DPMC_SD, []), (M1, M1_SD, SIG_M1), (S1, S1_SD, []), (S23, S23_SD, []),
    (UPPER, UPPER_SD, []), (MED67, MED67_SD, SIG_MED67), (ANT5, ANT5_SD, SIG_ANT5), (LAT67, LAT67_SD, SIG_LAT67),
    (LOWER, LOWER_SD, []), (MED34, MED34_SD, SIG_MED34), (ANT2, ANT2_SD, SIG_ANT2), (LAT34, LAT34_SD, SIG_LAT34),
]

# ---------------- styling ----------------
COLORS = {"rest": "#E9A22F", "rest_d": "#D3C447", "hand": "#3F73B3",
          "hand_d": "#58C2E5", "foot": "#C01F6E", "foot_d": "#EA6F8C"}
FILLS = {"rest": "rgba(236,170,60,0.12)", "rest_d": "rgba(225,215,110,0.18)",
         "hand": "rgba(70,120,190,0.11)", "hand_d": "rgba(120,210,240,0.15)",
         "foot": "rgba(195,40,115,0.10)", "foot_d": "rgba(235,120,145,0.13)"}
DASHED = {"rest_d", "hand_d", "foot_d"}
FONT = "Lato, 'Open Sans', sans-serif"

COL_PX = [(34, 200), (203, 368), (373, 538), (542, 708)]
ROW_PX = [(4, 133), (149, 277), (283, 412)]
Y_RANGES = [(-0.48, 30.24), (-0.2, 25.9), (-0.4, 25.4)]
Y_TICKS = [[0, 5, 10, 15, 20, 25, 30], [0, 5, 10, 15, 20, 25], [0, 5, 10, 15, 20, 25]]
Y_TEXT = [["0", "", "10", "", "20", "", "30"], ["0", "5", "10", "15", "20", "25"], ["0", "5", "10", "15", "20", "25"]]
Y_LABEL_SHIFT = [0, 2, -2]
TITLE_X = [140, 319, 488, 649]
TITLE_X_TOP = [140, 333, 498, 655]
TITLE_Y = [33, 187, 320]
SIG_OFF = {"rest": 2.5, "foot": 3.5, "hand": 7.0}

fig = go.Figure()
layout_axes = {}
annotations = []

for idx, (data, sd, sig) in enumerate(PANELS):
    r, c = divmod(idx, 4)
    k = idx + 1
    xname = "x" if k == 1 else f"x{k}"
    yname = "y" if k == 1 else f"y{k}"
    x0, x1 = COL_PX[c]
    y0, y1 = ROW_PX[r]
    layout_axes["xaxis" if k == 1 else f"xaxis{k}"] = dict(
        type="log", range=[math.log10(2.98), math.log10(176)],
        domain=[x0 / W, x1 / W], anchor=yname, layer="below traces",
        tickmode="array", tickvals=TICK_VALS, ticktext=TICK_TEXT, showticklabels=(r != 1),
        tickangle=0, ticklabelstandoff=1,
        showgrid=True, gridcolor="#e6e6e6", gridwidth=1,
        showline=True, linecolor="#c6c6c6", linewidth=1, mirror="ticks",
        ticks="inside", ticklen=3, tickcolor="#b5b5b5", tickwidth=1,
        tickfont=dict(size=10, color="#333", family=FONT), zeroline=False, fixedrange=True)
    layout_axes["yaxis" if k == 1 else f"yaxis{k}"] = dict(
        range=list(Y_RANGES[r]), domain=[1 - y1 / H, 1 - y0 / H], anchor=xname, layer="below traces",
        tickmode="array", tickvals=Y_TICKS[r], ticktext=Y_TEXT[r], showticklabels=(c == 0),
        ticklabelshift=Y_LABEL_SHIFT[r],
        showgrid=False, showline=True, linecolor="#c6c6c6", linewidth=1, mirror="ticks",
        ticks="inside", ticklen=3, tickcolor="#b5b5b5", tickwidth=1,
        tickfont=dict(size=9.5, color="#333", family=FONT), zeroline=False, fixedrange=True)

    # shaded bands
    for cond in CONDS:
        up = [v + s for v, s in zip(data[cond], sd[cond])]
        lo = [max(0.0, v - s) for v, s in zip(data[cond], sd[cond])]
        fig.add_trace(go.Scatter(
            x=FREQ + FREQ[::-1], y=up + lo[::-1], fill="toself", fillcolor=FILLS[cond],
            mode="lines", line=dict(width=0, shape="spline", smoothing=0.6),
            hoverinfo="skip", showlegend=False, xaxis=xname, yaxis=yname))
    # mean lines
    for cond in ["rest_d", "rest", "hand_d", "hand", "foot_d", "foot"]:
        fig.add_trace(go.Scatter(
            x=FREQ, y=data[cond], mode="lines", name=LABELS[cond],
            line=dict(color=COLORS[cond], width=1.6, shape="spline", smoothing=0.6,
                      dash="4px,3px" if cond in DASHED else "solid"),
            showlegend=False, xaxis=xname, yaxis=yname))
    # significance bars
    ppu = (y1 - y0) / (Y_RANGES[r][1] - Y_RANGES[r][0])
    for cond, f_lo, f_hi in sig:
        yv = Y_RANGES[r][1] - SIG_OFF[cond] / ppu
        fig.add_trace(go.Scatter(
            x=[f_lo, f_hi], y=[yv, yv], mode="lines",
            line=dict(color=COLORS[cond], width=2.5), hoverinfo="skip",
            showlegend=False, xaxis=xname, yaxis=yname))

    # panel labels
    head, sub = TITLES[idx]
    tx = TITLE_X_TOP[c] if r == 0 else TITLE_X[c]
    annotations.append(dict(
        text=f"<b>{head}</b>", x=tx / W, y=1 - TITLE_Y[r] / H, xref="paper", yref="paper",
        xanchor="left", yanchor="middle", align="left", showarrow=False,
        font=dict(size=9, color="#222", family=FONT)))
    if sub:
        annotations.append(dict(
            text=sub, x=(tx + 1) / W, y=1 - 53 / H, xref="paper", yref="paper",
            xanchor="left", yanchor="middle", align="left", showarrow=False,
            font=dict(size=9, color="#222", family=FONT)))

# invisible helper axes that carry the two vertical axis titles
AXIS_TITLES = [("ECoG Mean Power", 18, 112), ("DBS Mean Power", 232, 330)]
for j, (ttl, top_px, bot_px) in enumerate(AXIS_TITLES):
    k = 13 + j
    fig.add_trace(go.Scatter(x=[None], y=[None], mode="lines", showlegend=False, hoverinfo="skip",
                             xaxis=f"x{k}", yaxis=f"y{k}"))
    layout_axes[f"xaxis{k}"] = dict(domain=[17 / W, 18 / W], anchor=f"y{k}", visible=False, fixedrange=True)
    layout_axes[f"yaxis{k}"] = dict(
        domain=[1 - bot_px / H, 1 - top_px / H], anchor=f"x{k}", showticklabels=False, showline=False,
        showgrid=False, zeroline=False, ticks="", fixedrange=True, automargin=False,
        title=dict(text=f"<b>{ttl}</b>", standoff=0, font=dict(size=12, color="#222", family=FONT)))

annotations.append(dict(text="<b>Frequency [Hz]</b>", x=375 / W, y=1 - 437 / H, xref="paper", yref="paper",
                        showarrow=False, xanchor="center", yanchor="middle",
                        font=dict(size=12, color="#222", family=FONT)))

# legend (drawn manually)
shapes = []
LEG_X = {"rest": 149, "rest_d": 149, "hand": 313, "hand_d": 313, "foot": 477, "foot_d": 477}
LEG_Y = {"rest": 451, "hand": 451, "foot": 451, "rest_d": 464, "hand_d": 464, "foot_d": 464}
for cond in CONDS:
    lx, ly = LEG_X[cond], LEG_Y[cond]
    if cond not in DASHED:
        shapes.append(dict(type="rect", xref="paper", yref="paper", x0=lx / W, x1=(lx + 20) / W,
                           y0=1 - (ly + 3) / H, y1=1 - (ly - 3) / H, fillcolor=FILLS[cond], line=dict(width=0)))
    shapes.append(dict(type="line", xref="paper", yref="paper", x0=lx / W, x1=(lx + 20) / W,
                       y0=1 - ly / H, y1=1 - ly / H,
                       line=dict(color=COLORS[cond], width=1.6,
                                 dash="4px,3px" if cond in DASHED else "solid")))
    annotations.append(dict(text=LABELS[cond], x=(lx + 23) / W, y=1 - ly / H, xref="paper", yref="paper",
                            xanchor="left", yanchor="middle", showarrow=False,
                            font=dict(size=9, color="#333", family=FONT)))

fig.update_layout(
    width=W, height=H, margin=dict(l=0, r=0, t=0, b=0),
    paper_bgcolor="white", plot_bgcolor="white", showlegend=False,
    annotations=annotations, shapes=shapes, font=dict(family=FONT),
    **layout_axes)

fig.write_html("out.html", config={"displayModeBar": False},
               post_script="document.body.style.margin='0px';")
